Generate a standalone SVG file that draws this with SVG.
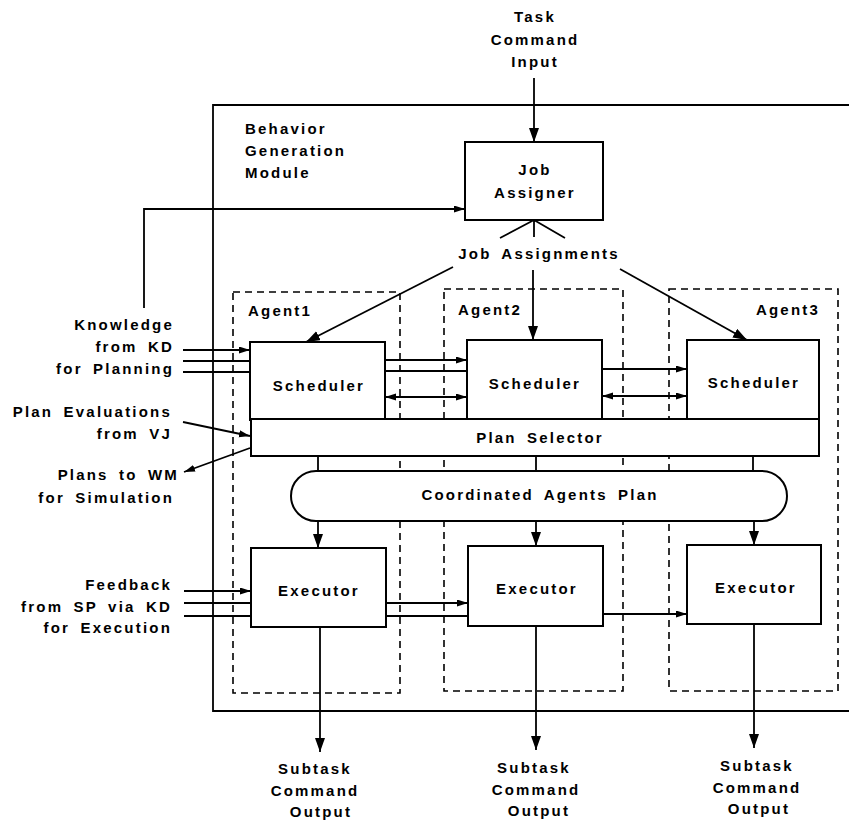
<svg xmlns="http://www.w3.org/2000/svg" width="849" height="820" viewBox="0 0 849 820">
<defs>
<marker id="big" markerUnits="userSpaceOnUse" markerWidth="16" markerHeight="12" refX="14" refY="5" orient="auto-start-reverse"><path d="M0,0 L14,5 L0,10 z" fill="#000"/></marker>
<marker id="sm" markerUnits="userSpaceOnUse" markerWidth="13" markerHeight="9" refX="11" refY="3.5" orient="auto-start-reverse"><path d="M0,0 L11,3.5 L0,7 z" fill="#000"/></marker>
<style>
text{font-family:"Liberation Sans",Arial,sans-serif;font-weight:bold;font-size:15px;letter-spacing:2.2px;word-spacing:4px;fill:#000}
.c{text-anchor:middle}
.e{text-anchor:end}
.box{fill:#fff;stroke:#000;stroke-width:2}
.agent{fill:none;stroke:#000;stroke-width:1.6;stroke-dasharray:7,5}
.ln{fill:none;stroke:#000;stroke-width:1.8}
.big{marker-end:url(#big)}
.sm{marker-end:url(#sm)}
.dbl{marker-start:url(#sm);marker-end:url(#sm)}
</style>
</defs>
<rect width="849" height="820" fill="#fff"/>

<g id="module">
<path class="ln" d="M849,105 H213 V711 H849" stroke-width="2"/>
<text x="245" y="134">Behavior</text>
<text x="245" y="156">Generation</text>
<text x="245" y="178">Module</text>
</g>

<g id="agent1"><rect class="agent" x="233" y="292" width="167" height="401"/><text x="248" y="316">Agent1</text></g>
<g id="agent2"><rect class="agent" x="444" y="289" width="179" height="402"/><text x="458" y="315">Agent2</text></g>
<g id="agent3"><rect class="agent" x="669" y="289" width="169" height="402"/><text class="e" x="820" y="315">Agent3</text></g>

<g id="connectors">
<path class="ln big" d="M534,78 V142"/>
<path class="ln sm" d="M144,308 V209 H465"/>
<path class="ln" d="M534,220 L500,238 M534,220 V237 M534,220 L565,238"/>
<path class="ln big" d="M453,267 L306,342"/>
<path class="ln big" d="M533,270 V340"/>
<path class="ln big" d="M620,269 L747,340"/>
<path class="ln sm" d="M183,350 H250"/>
<path class="ln" d="M183,361 H250 M183,372 H250"/>
<path class="ln sm" d="M385,360 H467"/>
<path class="ln" d="M385,371 H467"/>
<path class="ln sm" d="M602,369 H687"/>
<path class="ln dbl" d="M385,397 H467"/>
<path class="ln dbl" d="M602,396 H687"/>
<path class="ln sm" d="M183,422 L250,436"/>
<path class="ln sm" d="M250,448 L184,472"/>
<path class="ln" d="M318,456 V471 M536,456 V471 M753,456 V471"/>
<path class="ln big" d="M318,521 V548"/>
<path class="ln big" d="M536,521 V546"/>
<path class="ln big" d="M754,521 V545"/>
<path class="ln sm" d="M184,591 H251"/>
<path class="ln" d="M184,603 H251 M184,616 H251"/>
<path class="ln sm" d="M386,603 H468"/>
<path class="ln" d="M386,616 H468"/>
<path class="ln sm" d="M603,614 H687"/>
<path class="ln big" d="M320,627 V752"/>
<path class="ln big" d="M536,626 V750"/>
<path class="ln big" d="M754,624 V748"/>
</g>

<g id="task-input"><text class="c" x="535" y="22">Task</text><text class="c" x="535" y="45">Command</text><text class="c" x="535" y="67">Input</text></g>

<g id="job-assigner"><rect class="box" x="465" y="142" width="138" height="78"/><text class="c" x="535" y="175">Job</text><text class="c" x="535" y="198">Assigner</text></g>
<g id="job-assignments"><text class="c" x="539" y="259">Job Assignments</text></g>

<g id="scheduler1"><rect class="box" x="250" y="342" width="135" height="78"/><text class="c" x="319" y="391">Scheduler</text></g>
<g id="scheduler2"><rect class="box" x="467" y="340" width="135" height="80"/><text class="c" x="535" y="389">Scheduler</text></g>
<g id="scheduler3"><rect class="box" x="687" y="340" width="132" height="79"/><text class="c" x="754" y="388">Scheduler</text></g>

<g id="plan-selector"><rect class="box" x="251" y="419" width="568" height="37"/><text class="c" x="540" y="443">Plan Selector</text></g>

<g id="coordinated-plan"><rect class="box" x="291" y="471" width="496" height="50" rx="25" ry="25"/><text class="c" x="540" y="500">Coordinated Agents Plan</text></g>

<g id="executor1"><rect class="box" x="251" y="548" width="135" height="79"/><text class="c" x="319" y="596">Executor</text></g>
<g id="executor2"><rect class="box" x="468" y="546" width="135" height="80"/><text class="c" x="537" y="594">Executor</text></g>
<g id="executor3"><rect class="box" x="687" y="545" width="134" height="79"/><text class="c" x="756" y="593">Executor</text></g>

<g id="knowledge-input"><text class="e" x="174" y="330">Knowledge</text><text class="e" x="174" y="352">from KD</text><text class="e" x="174" y="374">for Planning</text></g>
<g id="plan-evaluations"><text class="e" x="172" y="417">Plan Evaluations</text><text class="e" x="172" y="439">from VJ</text></g>
<g id="plans-to-wm"><text class="e" x="179" y="480">Plans to WM</text><text class="e" x="174" y="503">for Simulation</text></g>
<g id="feedback-input"><text class="e" x="172" y="590">Feedback</text><text class="e" x="172" y="612">from SP via KD</text><text class="e" x="172" y="633">for Execution</text></g>

<g id="output1"><text class="c" x="315" y="774">Subtask</text><text class="c" x="315" y="796">Command</text><text class="c" x="321" y="817">Output</text></g>
<g id="output2"><text class="c" x="534" y="773">Subtask</text><text class="c" x="536" y="795">Command</text><text class="c" x="539" y="816">Output</text></g>
<g id="output3"><text class="c" x="757" y="771">Subtask</text><text class="c" x="757" y="793">Command</text><text class="c" x="759" y="814">Output</text></g>
</svg>
